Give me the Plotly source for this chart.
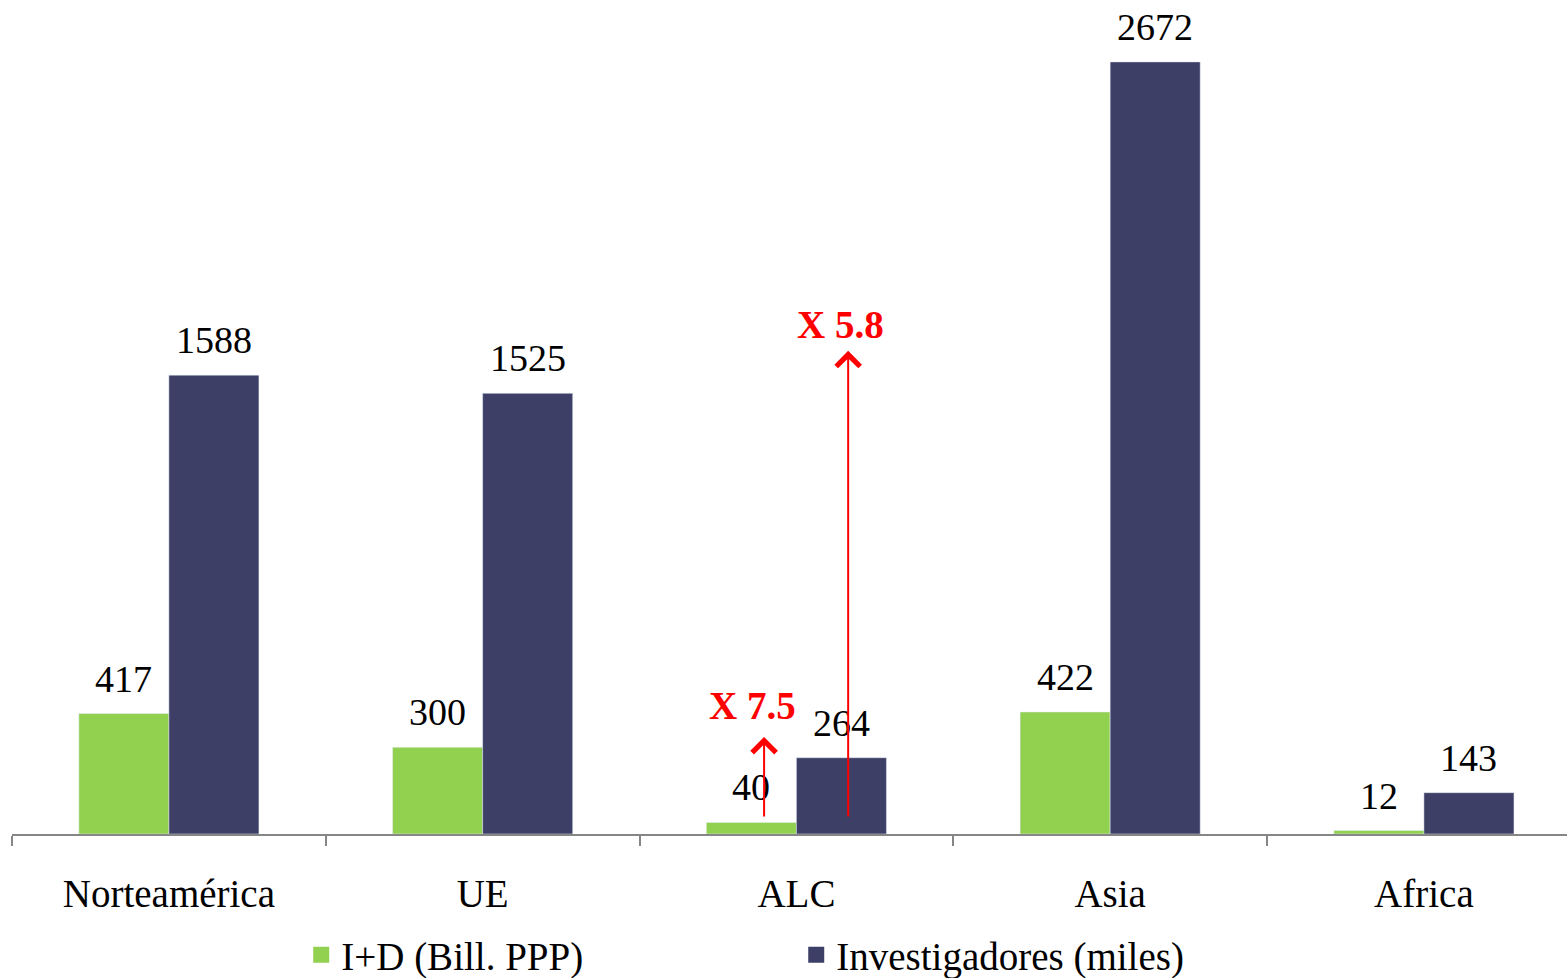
import plotly.graph_objects as go

categories = ["Norteamérica", "UE", "ALC", "Asia", "Africa"]
id_values = [417, 300, 40, 422, 12]
inv_values = [1588, 1525, 264, 2672, 143]
series_names = ["I+D (Bill. PPP)", "Investigadores (miles)"]

GREEN = "#92D050"
NAVY = "#3D3F66"
RED = "#FF0000"
FONT = "Liberation Serif"

fig = go.Figure()
fig.add_trace(go.Bar(x=categories, y=id_values, marker_color=GREEN, showlegend=False))
fig.add_trace(go.Bar(x=categories, y=inv_values, marker_color=NAVY, showlegend=False))

# legend proxies (bigger square swatches)
for name, col in zip(series_names, [GREEN, NAVY]):
    fig.add_trace(go.Scatter(x=[None], y=[None], mode="markers", name=name,
                             marker=dict(symbol="square", size=16, color=col)))

annotations = []
for cat, v in zip(categories, id_values):
    annotations.append(dict(x=cat, y=v, text=str(v), showarrow=False, xshift=-45, yshift=35,
                            yanchor="middle", font=dict(family=FONT, size=38, color="black")))
for cat, v in zip(categories, inv_values):
    annotations.append(dict(x=cat, y=v, text=str(v), showarrow=False, xshift=45, yshift=35,
                            yanchor="middle", font=dict(family=FONT, size=38, color="black")))

# growth arrows
annotations.append(dict(x=1.897, y=336, ax=1.897, ay=55, xref="x", yref="y", axref="x", ayref="y",
                        showarrow=True, arrowhead=4, arrowsize=2.3, arrowwidth=2, arrowcolor=RED, text=""))
annotations.append(dict(x=2.165, y=1672, ax=2.165, ay=55, xref="x", yref="y", axref="x", ayref="y",
                        showarrow=True, arrowhead=4, arrowsize=2.3, arrowwidth=2, arrowcolor=RED, text=""))
annotations.append(dict(x=1.859, y=446, text="<b>X 7.5</b>", showarrow=False,
                        font=dict(family=FONT, size=39, color=RED)))
annotations.append(dict(x=2.139, y=1762, text="<b>X 5.8</b>", showarrow=False,
                        font=dict(family=FONT, size=39, color=RED)))

fig.update_layout(
    width=1567, height=978,
    margin=dict(l=12, r=0, t=20, b=144, autoexpand=False),
    paper_bgcolor="white", plot_bgcolor="white",
    barmode="group", bargap=0.426, bargroupgap=0,
    font=dict(family=FONT, size=39, color="black"),
    annotations=annotations,
    showlegend=True,
    legend=dict(orientation="h", x=0.186, xanchor="left", y=-0.1486, yanchor="middle",
                entrywidth=450, entrywidthmode="pixels",
                font=dict(family=FONT, size=39, color="black"), bgcolor="rgba(0,0,0,0)"),
)
fig.update_xaxes(range=[-0.5, 4.456], showline=True, linecolor="#868686", linewidth=2,
                 ticks="outside", ticklen=10, tickwidth=2, tickcolor="#868686",
                 tickson="boundaries", ticklabelstandoff=24, showgrid=False, automargin=False,
                 tickfont=dict(family=FONT, size=39, color="black"))
fig.update_yaxes(range=[0, 2817], visible=False, showgrid=False, zeroline=False, automargin=False)

fig.write_html("out.html", config={"displayModeBar": False},
               post_script="document.body.style.margin='0';")
